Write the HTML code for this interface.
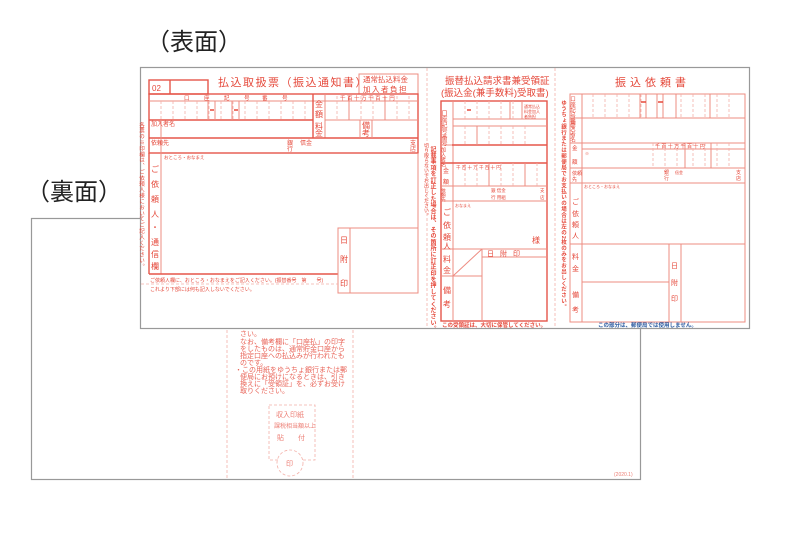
<!DOCTYPE html>
<html><head><meta charset="utf-8"><style>
html,body{margin:0;padding:0;background:#fff;width:800px;height:533px;overflow:hidden}
svg{display:block;font-family:"Liberation Sans","Noto Sans CJK JP",sans-serif}
.r{fill:#e5483a}
.l{stroke:#ee8c82;stroke-width:1;fill:none}
.t{stroke:#e5564a;stroke-width:1.4;fill:none}
.d{stroke:#f3b0a8;stroke-width:.8;stroke-dasharray:3 2;fill:none}
</style></head><body>
<svg width="800" height="533" viewBox="0 0 800 533" xmlns="http://www.w3.org/2000/svg">
<text x="146" y="50" font-size="24" fill="#222">（表面）</text>
<text x="26" y="200" font-size="24" fill="#222">（裏面）</text>

<!-- back sheet -->
<rect x="31.5" y="218.5" width="609" height="261" fill="#fff" stroke="#999" stroke-width="1.2"/>
<line x1="227" y1="300" x2="227" y2="479" class="d"/>
<line x1="353" y1="300" x2="353" y2="479" class="d"/>
<g class="r" font-size="7" opacity="0.85">
<text x="240" y="336">さい。</text>
<text x="240" y="344">なお、備考欄に「口座払」の印字</text>
<text x="240" y="351">をしたものは、通常貯金口座から</text>
<text x="240" y="358">指定口座への払込みが行われたも</text>
<text x="240" y="365">のです。</text>
<text x="235" y="372">・この用紙をゆうちょ銀行または郵</text>
<text x="240" y="379">便局にお預けになるときは、引き</text>
<text x="240" y="386">換えに「受領証」を、必ずお受け</text>
<text x="240" y="393">取りください。</text>
</g>
<path d="M269 405 H315 V460 H302 M278 460 H269 V405" class="d"/>
<ellipse cx="290" cy="463" rx="13" ry="13" class="d"/>
<g class="r" font-size="7" opacity="0.7">
<text x="276" y="417">収入印紙</text>
<text x="274" y="428" font-size="6">課税相当額以上</text>
<text x="277" y="440">貼　　付</text>
<text x="286" y="466">印</text>
<text x="614" y="476" font-size="5">(2020.1)</text>
</g>

<!-- front sheet -->
<rect x="140.5" y="67.5" width="609" height="261" fill="#fff" stroke="#999" stroke-width="1.2"/>
<line x1="427" y1="68" x2="427" y2="328" class="d"/>
<line x1="555" y1="68" x2="555" y2="328" class="d"/>

<!-- LEFT -->
<text x="218" y="86" font-size="11" class="r" letter-spacing="1.5">払込取扱票（振込通知書）</text>
<rect x="359" y="74" width="59" height="20" class="l"/>
<text x="363" y="82" font-size="7.5" class="r">通常払込料金</text>
<text x="363" y="92" font-size="7.5" class="r" letter-spacing="1.5">加入者負担</text>
<rect x="149" y="80" width="59" height="14" class="t"/>
<line x1="170" y1="80" x2="170" y2="94" class="t"/>
<text x="152" y="91" font-size="8" class="r">02</text>
<rect x="149" y="94" width="269" height="59" class="t"/>
<line x1="149" y1="101" x2="418" y2="101" class="l"/>
<line x1="149" y1="120" x2="313" y2="120" class="t"/>
<line x1="313" y1="94" x2="313" y2="138" class="t"/>
<line x1="325" y1="94" x2="325" y2="138" class="l"/>
<line x1="149" y1="138" x2="418" y2="138" class="t"/>
<line x1="161" y1="120" x2="161" y2="274" class="l"/>
<line x1="325" y1="120" x2="418" y2="120" class="l"/>
<line x1="360" y1="120" x2="360" y2="138" class="l"/>
<line x1="372" y1="120" x2="372" y2="138" class="l"/>
<g class="d"><path d="M161 101V120M173 101V120M185 101V120M197 101V120M209 101V120M221 101V120M233 101V120M245 101V120M257 101V120M269 101V120M281 101V120M293 101V120M305 101V120"/>
<path d="M337 96V120M349 96V120M361 96V120M373 96V120M385 96V120M397 96V120M409 96V120"/></g>
<path d="M208 101V120M215 101V120M232 101V120M239 101V120M349 96V120M385 96V120" class="l"/>
<path d="M210 110h4M234 110h4" stroke="#e5483a" stroke-width="1.5"/>
<g class="r" font-size="5.5"><text x="184" y="100">口</text><text x="204" y="100">座</text><text x="224" y="100">記</text><text x="244" y="100">号</text><text x="262" y="100">番</text><text x="282" y="100">号</text>
<text x="340" y="100">千 百 十 万 千 百 十 円</text></g>
<g class="r" font-size="8"><text x="315" y="107">金</text><text x="315" y="117">額</text><text x="315" y="129">料</text><text x="315" y="136">金</text><text x="362" y="128">備</text><text x="362" y="136">考</text></g>
<g class="r" font-size="6"><text x="151" y="126">加入者名</text><text x="151" y="145">依頼先</text><text x="287" y="145">銀</text><text x="287" y="151">行</text><text x="300" y="145">信金</text><text x="410" y="145">支</text><text x="410" y="151">店</text><text x="164" y="159" font-size="4.5">おところ・おなまえ</text></g>
<line x1="149" y1="153" x2="149" y2="274" class="t"/>
<line x1="149" y1="274" x2="338" y2="274" class="t"/>
<line x1="418" y1="153" x2="418" y2="228" class="l"/>
<rect x="338" y="228" width="80" height="65" class="l"/>
<line x1="350" y1="228" x2="350" y2="293" class="l"/>
<g class="r" font-size="8"><text x="340" y="243">日</text><text x="340" y="262">附</text><text x="340" y="286">印</text></g>
<g class="r" font-size="8"><text x="151" y="172">ご</text><text x="151" y="187">依</text><text x="151" y="202">頼</text><text x="151" y="217">人</text><text x="151" y="230">・</text><text x="151" y="245">通</text><text x="151" y="257">信</text><text x="151" y="269">欄</text></g>
<text x="150" y="282" font-size="5" class="r">ご依頼人欄に、おところ・おなまえをご記入ください。(振替番号　第　　号)</text>
<line x1="141" y1="284" x2="338" y2="284" class="d"/>
<text x="150" y="291" font-size="5" class="r">これより下部には何も記入しないでください。</text>
<text x="141" y="122" font-size="5.5" class="r" writing-mode="tb" letter-spacing="0.4">各票の※印欄は、ご依頼人様においてご記入ください。</text>
<text x="426" y="143" font-size="5" class="r" writing-mode="tb">切り取らないでお出しください。</text>
<text x="432" y="146" font-size="6" class="r" writing-mode="tb" font-weight="bold" letter-spacing="0.2">記載事項を訂正した場合は、その箇所に訂正印を押してください。</text>

<!-- MIDDLE -->
<text x="445" y="84" font-size="9.5" class="r">振替払込請求書兼受領証</text>
<text x="441" y="96" font-size="9.5" class="r">(振込金(兼手数料)受取書)</text>
<rect x="441" y="101" width="106" height="220" class="t"/>
<line x1="453" y1="101" x2="453" y2="321" class="l"/>
<path d="M453 119H547M453 126H547M441 145H547M441 163H547M441 186H547M441 201H547M441 249H547M441 276H482M482 257H547" class="l"/>
<path d="M452 145H547M441 163H547" class="t"/>
<path d="M482 249V321M453 276L482 249" class="l"/>
<path d="M465 101V119M477 101V119M489 101V119M501 101V119M513 101V119M465 126V145M489 126V145M501 126V145M513 126V145M525 126V145M465 163V186M477 163V186M489 163V186M501 163V186M513 163V186M525 163V186M537 163V186" class="d"/>
<path d="M510 101V119M522 101V119M477 126V145M489 163V186M525 163V186" class="l"/>
<path d="M467 110h4" stroke="#e5483a" stroke-width="1.5"/>
<g class="r" font-size="4"><text x="524" y="108">通常払込</text><text x="524" y="113">料金加入</text><text x="524" y="118">者負担</text></g>
<g class="r" font-size="6"><text x="443" y="110" writing-mode="tb">口座記号番号</text><text x="443" y="147" writing-mode="tb" font-size="5">加入者名</text><text x="443" y="173">金</text><text x="443" y="184">額</text><text x="444" y="188" font-size="4.5" writing-mode="tb">依頼先</text>
<text x="456" y="169" font-size="4.5">千 百 十 万 千 百 十 円</text><text x="491" y="192" font-size="4.5">銀 信金</text><text x="491" y="199" font-size="4.5">行 用組</text><text x="540" y="192" font-size="4.5">支</text><text x="540" y="199" font-size="4.5">店</text><text x="455" y="207" font-size="4">おなまえ</text></g>
<g class="r" font-size="8"><text x="443" y="215">ご</text><text x="443" y="228">依</text><text x="443" y="240">頼</text><text x="443" y="249">人</text><text x="443" y="262">料</text><text x="443" y="273">金</text><text x="443" y="293">備</text><text x="443" y="307">考</text><text x="532" y="243">様</text></g>
<text x="487" y="256" font-size="7" class="r" letter-spacing="6">日附印</text>
<text x="442" y="327" font-size="5.5" class="r" font-weight="bold">この受領証は、大切に保管してください。</text>

<!-- RIGHT -->
<text x="615" y="86" font-size="11" class="r" letter-spacing="4">振込依頼書</text>
<rect x="570" y="94" width="175" height="228" class="l"/>
<line x1="582" y1="94" x2="582" y2="322" class="l"/>
<path d="M570 118H745M570 143H745M570 168H745M570 183H745M570 244H745M582 282H669" class="l"/>
<path d="M582 149H745" class="l"/>
<path d="M669 244V322M681 244V322" class="l"/>
<path d="M593 94V118M605 94V118M617 94V118M629 94V118M641 94V118M681 94V118M693 94V118M705 94V118M717 94V118M729 94V118M653 143V168M665 143V168M677 143V168M693 143V168M705 143V168M717 143V168M729 143V168" class="d"/>
<path d="M640 94V118M646 94V118M657 94V118M663 94V118M676 94V118M710 94V118M685 143V168M711 143V168" class="l"/>
<path d="M641 102h5M658 102h5" stroke="#e5483a" stroke-width="1.5"/>
<g class="r" font-size="5.5"><text x="572" y="96" writing-mode="tb">口座記号番号</text><text x="572" y="120" writing-mode="tb">加入者名</text><text x="572" y="150">金</text><text x="572" y="164">額</text><text x="572" y="175" font-size="5">依頼</text><text x="572" y="181" font-size="5">先</text>
<text x="655" y="148" font-size="5">千 百 十 万 千 百 十 円</text><text x="585" y="155" font-size="4">※</text><text x="664" y="174" font-size="5">銀</text><text x="664" y="180" font-size="5">行</text><text x="675" y="174" font-size="4">信金</text><text x="736" y="174" font-size="5">支</text><text x="736" y="180" font-size="5">店</text><text x="584" y="188" font-size="4">おところ・おなまえ</text></g>
<g class="r" font-size="7"><text x="572" y="204">ご</text><text x="572" y="216">依</text><text x="572" y="227">頼</text><text x="572" y="238">人</text><text x="572" y="259">料</text><text x="572" y="271">金</text><text x="572" y="297">備</text><text x="572" y="312">考</text><text x="671" y="268">日</text><text x="671" y="285">附</text><text x="671" y="301">印</text></g>
<text x="563" y="100" font-size="5.5" class="r" writing-mode="tb" font-weight="bold" letter-spacing="0.4">ゆうちょ銀行または郵便局でお支払いの場合は左の2枚のみをお出しください。</text>
<text x="598" y="327" font-size="5.5" fill="#2a5aa0" font-weight="bold">この部分は、郵便局では使用しません。</text>
</svg>
</body></html>
